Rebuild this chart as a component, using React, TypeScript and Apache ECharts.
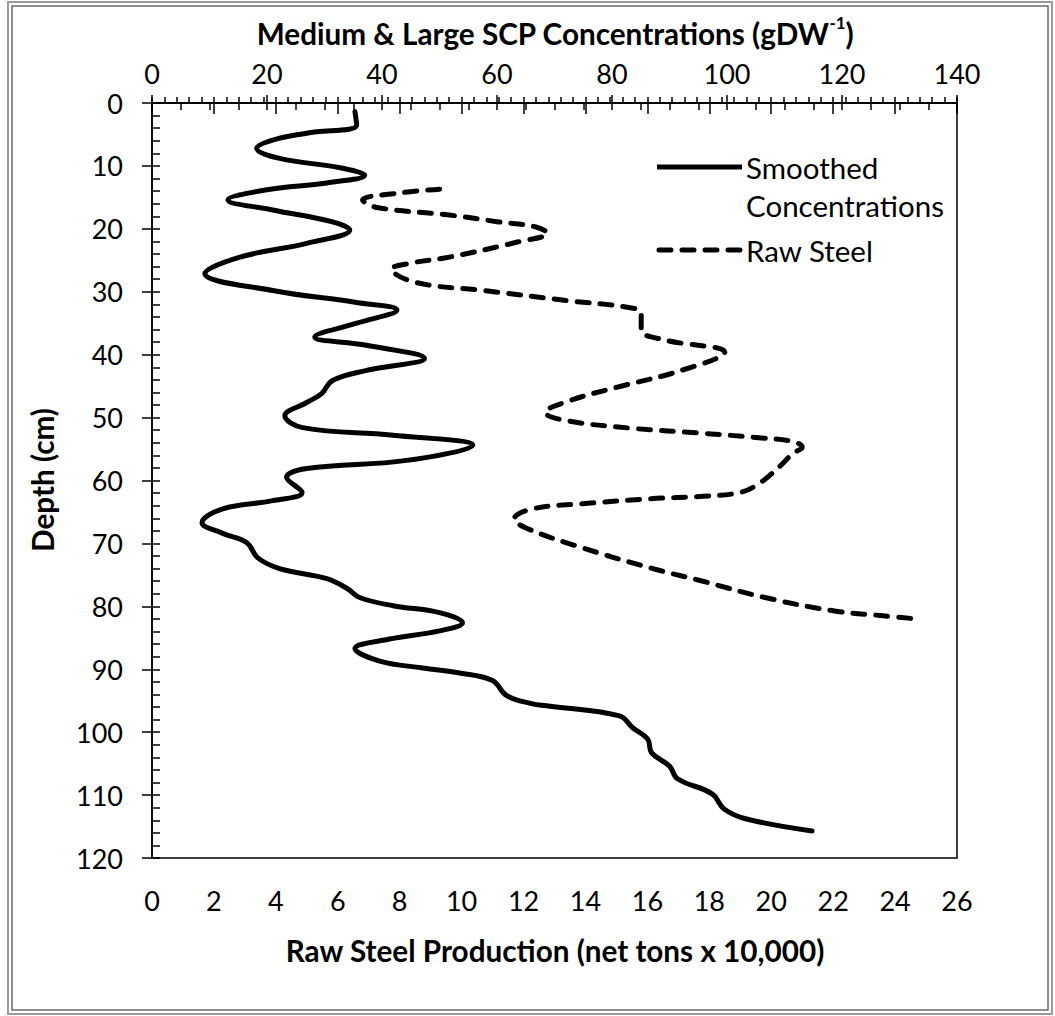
import React, { useEffect, useRef } from 'react';
import * as echarts from 'echarts';

// Smoothed concentrations (top axis, gDW-1) vs depth (cm)
const solidDepth = [1.4, 3.5, 4.8, 5.9, 7.2, 8.8, 10.3, 11.5, 12.7, 13.8, 15.4, 17.0, 18.9, 20.2, 22.3, 24.5, 27.1, 29.8, 31.7, 32.9, 35.0, 37.2, 38.5, 40.6, 42.5, 44.1, 46.2, 47.6, 49.7, 51.6, 52.8, 54.4, 56.8, 58.1, 59.5, 61.9, 63.2, 64.5, 66.7, 68.4, 69.9, 72.3, 74.0, 75.6, 77.2, 78.6, 79.9, 81.0, 82.6, 83.9, 85.2, 86.7, 88.7, 89.8, 90.6, 91.8, 94.2, 95.5, 95.8, 97.4, 99.3, 101.1, 103.3, 105.4, 107.4, 109.8, 112.2, 113.8, 115.7];
const solidConc = [35.3, 35.6, 26.9, 21.0, 18.2, 22.2, 32.7, 37.0, 30.4, 20.0, 13.2, 21.0, 31.4, 34.4, 26.9, 15.3, 9.2, 21.0, 35.6, 42.6, 35.6, 28.3, 37.3, 47.4, 37.3, 31.4, 29.5, 26.9, 23.1, 26.2, 41.9, 55.8, 44.3, 26.9, 23.4, 26.1, 21.0, 12.3, 8.7, 12.3, 16.5, 18.4, 22.2, 30.4, 34.0, 36.1, 41.9, 50.0, 54.0, 50.0, 41.3, 35.3, 39.6, 47.1, 53.5, 59.2, 61.7, 66.2, 68.6, 81.3, 83.6, 86.2, 86.9, 90.0, 91.4, 97.4, 99.5, 103.4, 114.8];

// Raw steel production (bottom axis, net tons x 10,000) vs depth (cm)
const steelDepth = [13.7, 14.3, 15.4, 16.6, 17.8, 18.9, 19.7, 20.7, 22.1, 24.5, 25.5, 26.4, 28.5, 29.8, 31.4, 32.5, 33.4, 36.1, 37.7, 39.6, 42.5, 45.2, 47.3, 49.2, 50.5, 51.7, 52.5, 53.2, 53.8, 54.7, 55.7, 58.1, 60.5, 61.9, 62.5, 62.9, 63.7, 64.5, 66.1, 67.6, 70.7, 73.9, 75.9, 78.6, 80.7, 81.5, 82.0];
const steelValue = [9.29, 8.0, 6.8, 7.26, 9.6, 11.2, 12.4, 12.77, 11.8, 9.6, 8.3, 7.74, 8.5, 10.7, 13.4, 15.4, 15.8, 15.8, 16.6, 18.5, 17.1, 15.0, 13.5, 12.7, 13.4, 15.5, 17.8, 19.6, 20.7, 21.0, 20.7, 20.2, 19.6, 19.0, 17.8, 16.1, 13.9, 12.3, 11.7, 12.1, 13.9, 16.1, 17.7, 19.8, 22.0, 23.6, 24.7];

const seriesNames = ['Smoothed', 'Concentrations', 'Raw Steel'];
const topTitle = 'Medium & Large SCP Concentrations (gDW';
const bottomTitle = 'Raw Steel Production (net tons x 10,000)';
const leftTitle = 'Depth (cm)';

const FONT = 'Lato';
const LABEL_SIZE = 27;
const TITLE_SIZE = 29.7;
const LEGEND_SIZE = 29.5;

export default function App() {
  const ref = useRef<HTMLDivElement>(null);
  useEffect(() => {
    document.body.style.margin = '0';
    const chart = echarts.init(ref.current!, null, { renderer: 'svg' });
    const labelStyle = { fontSize: LABEL_SIZE, fontFamily: FONT, color: '#000' };
    const line = { show: true, lineStyle: { color: '#000', width: 1.5 } };
    const tickStyle = { color: '#000', width: 1.5 };
    const option: any = {
      animation: false,
      backgroundColor: '#fff',
      grid: {
        left: 152, right: 98, top: 103, bottom: 158,
        show: true, borderColor: '#000', borderWidth: 1.5, backgroundColor: 'transparent',
        outerBoundsMode: 'none', containLabel: false,
      },
      xAxis: [
        {
          type: 'value', position: 'bottom', min: 0, max: 26, interval: 2,
          axisLine: line, axisTick: { show: true, inside: false, length: 11, lineStyle: tickStyle },
          axisLabel: { ...labelStyle, margin: 29 }, splitLine: { show: false },
        },
        {
          type: 'value', position: 'bottom', min: 0, max: 26, interval: 0.4,
          axisLine: { show: false }, axisTick: { show: true, inside: true, length: 6, lineStyle: tickStyle },
          axisLabel: { show: false }, splitLine: { show: false },
        },
        {
          type: 'value', position: 'top', min: 0, max: 140, interval: 20,
          axisLine: line, axisTick: { show: true, inside: false, length: 8, lineStyle: tickStyle },
          axisLabel: { ...labelStyle, margin: 16 }, splitLine: { show: false },
        },
        {
          type: 'value', position: 'top', min: 0, max: 140, interval: 5,
          axisLine: { show: false }, axisTick: { show: true, inside: true, length: 7, lineStyle: tickStyle },
          axisLabel: { show: false }, splitLine: { show: false },
        },
      ],
      yAxis: [
        {
          type: 'value', position: 'left', inverse: true, min: 0, max: 120, interval: 10,
          axisLine: line, axisTick: { show: true, inside: false, length: 10, lineStyle: tickStyle },
          axisLabel: { ...labelStyle, margin: 29 }, splitLine: { show: false },
        },
        {
          type: 'value', position: 'left', inverse: true, min: 0, max: 120, interval: 2,
          axisLine: { show: false }, axisTick: { show: true, inside: true, length: 8, lineStyle: tickStyle },
          axisLabel: { show: false }, splitLine: { show: false },
        },
      ],
      series: [
        {
          type: 'line', name: 'Smoothed Concentrations', xAxisIndex: 2, yAxisIndex: 0,
          data: solidConc.map((c, i) => [c, solidDepth[i]]),
          symbol: 'none', showSymbol: false, smooth: 0.4,
          lineStyle: { color: '#000', width: 5, cap: 'round', join: 'round' },
        },
        {
          type: 'line', name: 'Raw Steel', xAxisIndex: 0, yAxisIndex: 0,
          data: steelValue.map((v, i) => [v, steelDepth[i]]),
          symbol: 'none', showSymbol: false, smooth: 0.4,
          lineStyle: { color: '#000', width: 5, type: [12, 11], cap: 'round', join: 'round' },
        },
      ],
      graphic: [
        { type: 'rect', shape: { x: 8, y: 2, width: 1044, height: 1012 }, style: { fill: 'none', stroke: '#9a9a9a', lineWidth: 2 }, silent: true },
        { type: 'rect', shape: { x: 12, y: 6, width: 1036, height: 1004 }, style: { fill: 'none', stroke: '#6a6a6a', lineWidth: 1.5 }, silent: true },
        {
          type: 'text', x: 555, y: 31,
          style: {
            text: '{a|' + topTitle + '}{s|-1}{a|)}',
            align: 'center', verticalAlign: 'middle',
            rich: {
              a: { fontSize: TITLE_SIZE, fontWeight: 'bold', fontFamily: FONT, fill: '#000', lineHeight: 34, verticalAlign: 'bottom' },
              s: { fontSize: 17, fontWeight: 'bold', fontFamily: FONT, fill: '#000', lineHeight: 34, verticalAlign: 'top' },
            },
          },
        },
        {
          type: 'text', x: 555, y: 950,
          style: { text: bottomTitle, align: 'center', verticalAlign: 'middle', fontSize: TITLE_SIZE, fontWeight: 'bold', fontFamily: FONT, fill: '#000' },
        },
        {
          type: 'text', x: 42, y: 480, rotation: Math.PI / 2,
          style: { text: leftTitle, align: 'center', verticalAlign: 'middle', fontSize: TITLE_SIZE, fontWeight: 'bold', fontFamily: FONT, fill: '#000' },
        },
        { type: 'line', shape: { x1: 657, y1: 167, x2: 742, y2: 167 }, style: { stroke: '#000', lineWidth: 5 } },
        { type: 'line', shape: { x1: 659, y1: 250, x2: 742, y2: 250 }, style: { stroke: '#000', lineWidth: 5, lineDash: [12, 11], lineCap: 'round' } },
        { type: 'text', x: 746, y: 167, style: { text: seriesNames[0], align: 'left', verticalAlign: 'middle', fontSize: LEGEND_SIZE, fontFamily: FONT, fill: '#000' } },
        { type: 'text', x: 746, y: 205, style: { text: seriesNames[1], align: 'left', verticalAlign: 'middle', fontSize: LEGEND_SIZE, fontFamily: FONT, fill: '#000' } },
        { type: 'text', x: 746, y: 250, style: { text: seriesNames[2], align: 'left', verticalAlign: 'middle', fontSize: LEGEND_SIZE, fontFamily: FONT, fill: '#000' } },
      ],
    };
    chart.setOption(option);
    return () => chart.dispose();
  }, []);
  return <div ref={ref} style={{ width: 1055, height: 1016 }} />;
}
